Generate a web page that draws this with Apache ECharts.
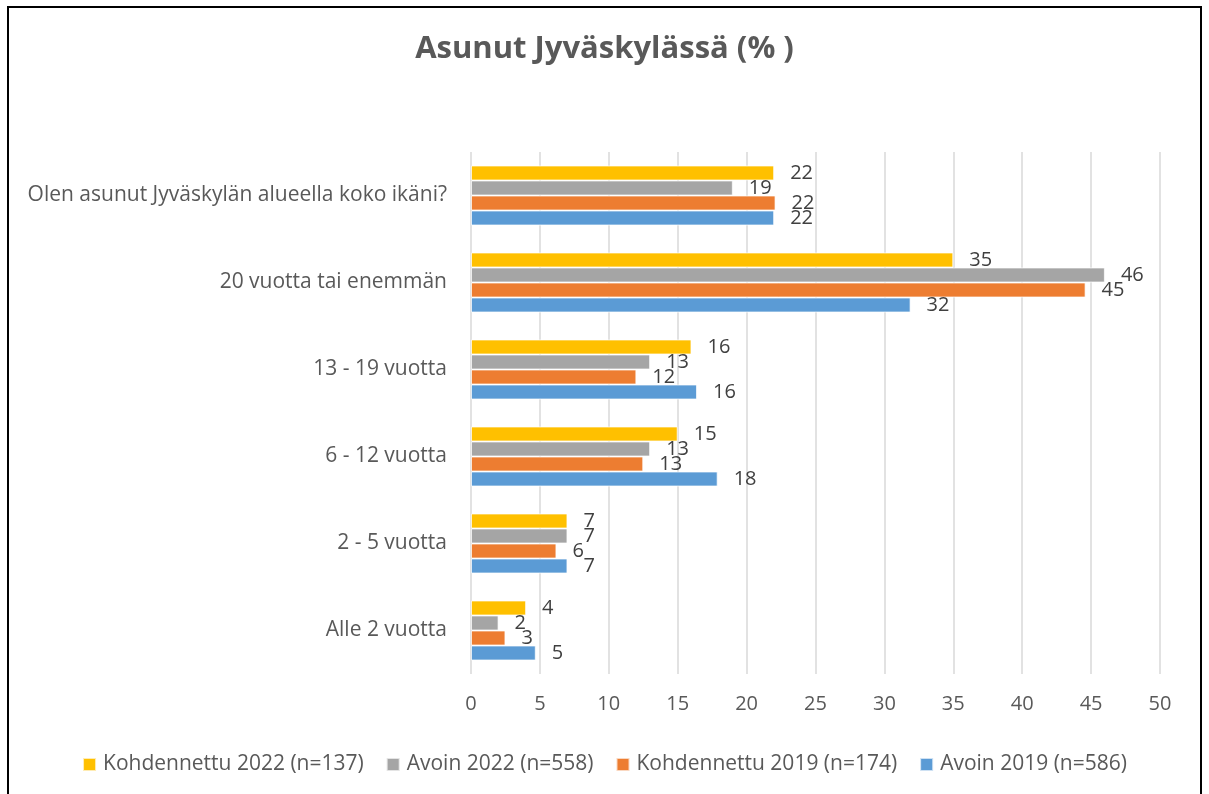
<!DOCTYPE html>
<html>
<head>
<meta charset="utf-8">
<title>Asunut Jyväskylässä</title>
<script src="https://cdn.jsdelivr.net/npm/echarts@6/dist/echarts.min.js"></script>
<style>
  html, body { margin: 0; padding: 0; background: #fff; }
  #main { width: 1209px; height: 794px; }
</style>
</head>
<body>
<div id="main"></div>
<script>
// luokat ylhäältä alas
var categories = ['Olen asunut Jyväskylän alueella koko ikäni?', '20 vuotta tai enemmän', '13 - 19 vuotta', '6 - 12 vuotta', '2 - 5 vuotta', 'Alle 2 vuotta'];
var seriesNames = ['Kohdennettu 2022 (n=137)', 'Avoin 2022 (n=558)', 'Kohdennettu 2019 (n=174)', 'Avoin 2019 (n=586)'];
var kohdennettu2022 = [22, 35, 16, 15, 7, 4];
var avoin2022 = [19, 46, 13, 13, 7, 2];
var kohdennettu2019 = [22.1, 44.6, 12, 12.5, 6.2, 2.5];
var avoin2019 = [22, 31.9, 16.4, 17.9, 7, 4.7];
var xTicks = [0, 50, 5]; // min, max, interval

var colors = ['#FFC000', '#A5A5A5', '#ED7D31', '#5B9BD5'];
var font = 'Open Sans, Liberation Sans, sans-serif';

var myChart = echarts.init(document.getElementById('main'));

function makeSeries(name, data, color) {
    return {
        name: name,
        type: 'bar',
        data: data,
        barGap: '0%',
        barCategoryGap: '31%',
        itemStyle: { color: color, borderColor: 'rgba(255,255,255,0.7)', borderWidth: 1 },
        label: {
            show: true,
            position: 'right',
            distance: 16,
            color: '#404040',
            fontSize: 20,
            fontFamily: font,
            formatter: function (p) { return Math.round(p.value); }
        }
    };
}

var option = {
    animation: false,
    color: colors,
    title: {
        text: 'Asunut Jyväskylässä (% )',
        left: 'center',
        top: 29,
        textStyle: { color: '#595959', fontSize: 31, fontWeight: 'bold', fontFamily: font }
    },
    graphic: [{
        type: 'rect',
        shape: { x: 8, y: 7, width: 1193, height: 800 },
        style: { fill: 'none', stroke: '#000', lineWidth: 2 },
        silent: true
    }],
    legend: {
        top: 749,
        left: 'center',
        itemWidth: 13,
        itemHeight: 13,
        itemGap: 22,
        icon: 'rect',
        textStyle: { color: '#595959', fontSize: 21, fontFamily: font, padding: [0, 0, 0, 2] },
        data: seriesNames
    },
    grid: { left: 471, right: 49, top: 152, bottom: 120 },
    xAxis: {
        type: 'value',
        min: xTicks[0],
        max: xTicks[1],
        interval: xTicks[2],
        axisLine: { show: false },
        axisTick: { show: false },
        axisLabel: { color: '#595959', fontSize: 20, fontFamily: font, margin: 20 },
        splitLine: { lineStyle: { color: '#D9D9D9', width: 1.5 } }
    },
    yAxis: {
        type: 'category',
        inverse: true,
        data: categories,
        axisLine: { show: false },
        axisTick: { show: false },
        axisLabel: { color: '#595959', fontSize: 21, fontFamily: font, margin: 24 }
    },
    series: [
        makeSeries(seriesNames[0], kohdennettu2022, colors[0]),
        makeSeries(seriesNames[1], avoin2022, colors[1]),
        makeSeries(seriesNames[2], kohdennettu2019, colors[2]),
        makeSeries(seriesNames[3], avoin2019, colors[3])
    ]
};

myChart.setOption(option);
</script>
</body>
</html>
